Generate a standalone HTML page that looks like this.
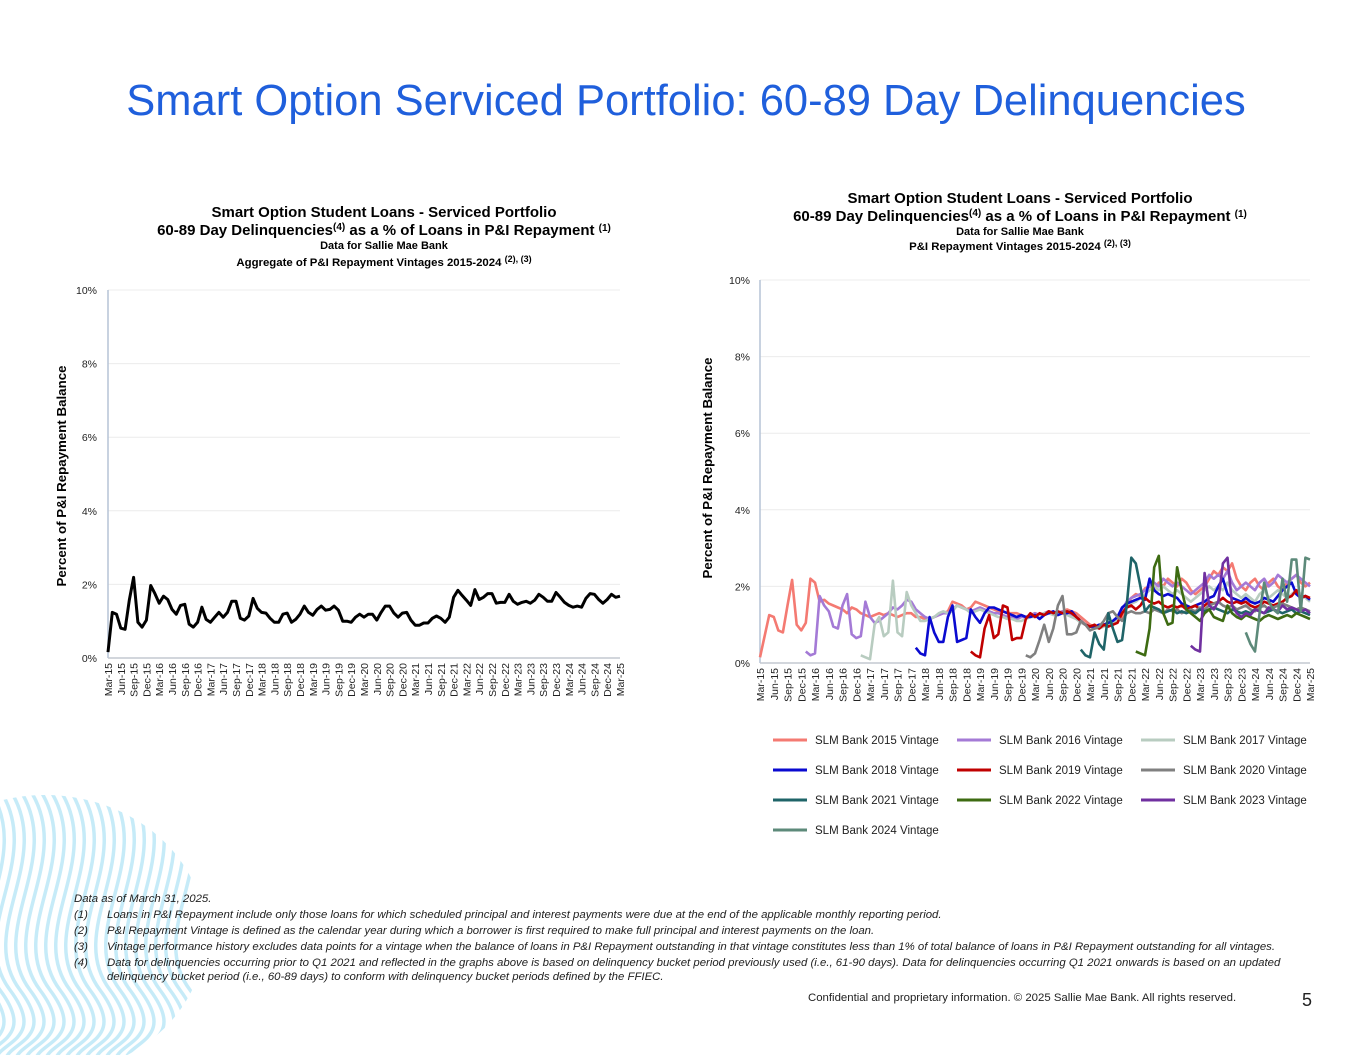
<!DOCTYPE html>
<html><head><meta charset="utf-8"><style>
html,body{margin:0;padding:0;background:#fff;}
body{width:1365px;height:1055px;overflow:hidden;font-family:"Liberation Sans",Arial,sans-serif;}
svg text{font-family:"Liberation Sans",Arial,sans-serif;}
</style></head><body>
<svg id="page" width="1365" height="1055" viewBox="0 0 1365 1055">
<defs><clipPath id="blob"><ellipse cx="45" cy="935" rx="160" ry="140"/></clipPath></defs>
<g id="waves" clip-path="url(#blob)"></g>
<text x="686" y="115" text-anchor="middle" font-size="43.5" fill="#1f5fdc">Smart Option Serviced Portfolio: 60-89 Day Delinquencies</text>

<g font-weight="bold" fill="#000" text-anchor="middle">
<text x="384" y="217" font-size="15">Smart Option Student Loans - Serviced Portfolio</text>
<text x="384" y="235" font-size="15">60-89 Day Delinquencies<tspan font-size="10" dy="-5">(4)</tspan><tspan dy="5"> as a % of Loans in P&amp;I Repayment </tspan><tspan font-size="10" dy="-4">(1)</tspan></text>
<text x="384" y="249" font-size="11">Data for Sallie Mae Bank</text>
<text x="384" y="266" font-size="11.4">Aggregate of P&amp;I Repayment Vintages 2015-2024 <tspan font-size="9" dy="-4">(2), (3)</tspan></text>
</g>
<g font-weight="bold" fill="#000" text-anchor="middle">
<text x="1020" y="203" font-size="15">Smart Option Student Loans - Serviced Portfolio</text>
<text x="1020" y="221" font-size="15">60-89  Day Delinquencies<tspan font-size="10" dy="-5">(4)</tspan><tspan dy="5"> as a % of Loans in P&amp;I Repayment </tspan><tspan font-size="10" dy="-4">(1)</tspan></text>
<text x="1020" y="235" font-size="11">Data for Sallie Mae Bank</text>
<text x="1020" y="250" font-size="11.4">P&amp;I Repayment Vintages 2015-2024 <tspan font-size="9" dy="-4">(2), (3)</tspan></text>
</g>

<g id="left"></g>
<g id="right"></g>

<g font-size="11.4" font-style="italic" fill="#222">
<text x="74" y="902">Data as of  March 31, 2025.</text>
<text x="74" y="918">(1)</text><text x="107" y="918">Loans in P&amp;I Repayment include only those loans for which scheduled principal and interest payments were due at the end of the applicable monthly reporting period.</text>
<text x="74" y="934">(2)</text><text x="107" y="934">P&amp;I Repayment Vintage is defined as the calendar year during which a borrower is first required to make full principal and interest payments on the loan.</text>
<text x="74" y="950">(3)</text><text x="107" y="950">Vintage performance history excludes data points for a vintage when the balance of loans in P&amp;I Repayment outstanding in that vintage constitutes less than 1% of total balance of loans in P&amp;I Repayment outstanding for all vintages.</text>
<text x="74" y="966">(4)</text><text x="107" y="966">Data for delinquencies occurring prior to Q1 2021 and reflected in the graphs above is based on delinquency bucket period previously used (i.e., 61-90 days).  Data for delinquencies occurring Q1 2021 onwards is based on an updated</text>
<text x="107" y="980">delinquency bucket period (i.e., 60-89 days) to conform with delinquency bucket periods defined by the FFIEC.</text>
</g>
<text x="808" y="1001" font-size="11.4" fill="#222">Confidential and proprietary information. © 2025 Sallie Mae Bank. All rights reserved.</text>
<text x="1302" y="1006" font-size="18" fill="#222">5</text>
</svg>
<script>
const quarterLabels = ["Mar-15","Jun-15","Sep-15","Dec-15","Mar-16","Jun-16","Sep-16","Dec-16","Mar-17","Jun-17","Sep-17","Dec-17","Mar-18","Jun-18","Sep-18","Dec-18","Mar-19","Jun-19","Sep-19","Dec-19","Mar-20","Jun-20","Sep-20","Dec-20","Mar-21","Jun-21","Sep-21","Dec-21","Mar-22","Jun-22","Sep-22","Dec-22","Mar-23","Jun-23","Sep-23","Dec-23","Mar-24","Jun-24","Sep-24","Dec-24","Mar-25"];
const yTicks = [0,2,4,6,8,10];
const yTickLabels = ["0%","2%","4%","6%","8%","10%"];
const aggregate = [0.16,1.24,1.19,0.81,0.78,1.57,2.19,0.97,0.84,1.03,1.97,1.75,1.49,1.68,1.59,1.32,1.19,1.43,1.46,0.92,0.84,0.97,1.38,1.05,0.97,1.11,1.24,1.11,1.24,1.54,1.54,1.08,1.03,1.14,1.62,1.35,1.24,1.22,1.08,0.97,0.97,1.19,1.22,0.97,1.05,1.19,1.41,1.24,1.16,1.32,1.41,1.30,1.32,1.41,1.30,1.00,1.00,0.97,1.11,1.19,
1.11,1.19,1.19,1.03,1.24,1.41,1.41,1.22,1.11,1.22,1.24,1.03,0.89,0.89,0.95,0.95,1.08,1.14,1.08,0.97,1.11,1.65,1.84,1.70,1.57,1.43,1.86,1.59,1.65,1.75,1.75,1.49,1.51,1.51,1.73,1.54,1.46,1.51,1.54,1.49,1.57,1.73,1.65,1.54,1.54,1.78,1.65,1.51,1.43,1.38,1.41,1.38,1.62,1.75,1.73,1.59,1.49,1.59,1.73,1.65,1.68];
const vintageNames = ["SLM Bank 2015 Vintage","SLM Bank 2016 Vintage","SLM Bank 2017 Vintage","SLM Bank 2018 Vintage","SLM Bank 2019 Vintage","SLM Bank 2020 Vintage","SLM Bank 2021 Vintage","SLM Bank 2022 Vintage","SLM Bank 2023 Vintage","SLM Bank 2024 Vintage"];
const vintageStart = [0,10,22,34,46,58,70,82,94,106];
const v2015 = [0.15,0.7,1.25,1.2,0.85,0.8,1.5,2.17,1.0,0.85,1.05,2.2,2.1, 1.6,1.65,1.55,1.5,1.45,1.4,1.3,1.45,1.4,1.3,1.25,1.2, 1.25,1.3,1.25,1.3,1.25,1.2,1.25,1.3,1.3,1.2,1.2,1.15, 1.15,1.2,1.25,1.3,1.35,1.6,1.55,1.5,1.4,1.45,1.6,1.55, 1.5,1.45,1.4,1.35,1.35,1.3,1.3,1.3,1.25,1.2,1.25,1.3, 1.25,1.3,1.35,1.3,1.3,1.35,1.4,1.35,1.3,1.2,1.1,1.0, 0.95,0.9,1.0,1.05,1.0,1.1,1.2,1.5,1.7,1.8,1.75,1.95, 2.0,1.9,2.1,2.0,2.2,2.1,2.0,2.2,2.1,1.9,1.8,1.9, 2.0,2.2,2.4,2.3,2.5,2.4,2.6,2.2,2.0,1.9,2.1,2.2, 2.0,1.9,2.1,2.2,2.0,1.9,2.1,2.2,2.3,2.1,2.0,2.1];
const v2016 = [0.3,0.2,0.25,1.75,1.5,1.35,0.95,0.9,1.5,1.8,0.75,0.65, 0.7,1.6,1.2,1.05,1.1,1.2,1.3,1.45,1.4,1.5,1.65,1.6, 1.4,1.3,1.2,1.15,1.2,1.25,1.3,1.3,1.4,1.5,1.45,1.4, 1.35,1.4,1.45,1.4,1.35,1.3,1.3,1.25,1.2,1.2,1.15,1.2, 1.2,1.25,1.3,1.25,1.3,1.35,1.3,1.3,1.35,1.3,1.25,1.2, 1.1,1.0,0.95,0.9,0.95,1.0,1.0,1.1,1.15,1.4,1.6,1.7, 1.75,1.8,1.9,2.0,2.1,2.0,2.2,2.1,2.0,2.1,2.0,1.9, 1.8,1.9,2.0,2.1,2.3,2.2,2.3,2.2,2.4,2.1,1.9,2.0, 2.1,2.0,1.9,2.1,2.2,2.0,2.1,2.3,2.2,2.1,2.2,2.3,2.2,2.1,2.0];
const v2017 = [0.2,0.15,0.1,1.0,1.2,0.7,0.8,2.15,0.8,0.7,1.85,1.5, 1.3,1.1,1.1,1.15,1.2,1.3,1.35,1.3,1.35,1.5,1.45,1.4, 1.3,1.35,1.4,1.35,1.3,1.25,1.2,1.2,1.15,1.15,1.1,1.1, 1.15,1.2,1.2,1.25,1.3,1.3,1.25,1.3,1.3,1.25,1.2,1.15, 1.05,1.0,0.95,0.9,0.9,0.95,1.0,1.05,1.1,1.3,1.45,1.55, 1.6,1.7,1.8,1.9,2.0,1.9,2.0,1.9,1.8,1.9,1.8,1.7, 1.6,1.7,1.8,1.9,2.0,1.9,2.0,1.9,2.1,1.9,1.8,1.7, 1.8,1.7,1.6,1.8,1.9,1.7,1.8,1.9,1.8,1.7,1.8,1.9,1.8,1.7,1.6];
const v2018 = [0.4,0.25,0.2,1.2,0.8,0.55,0.55,1.2,1.5,0.55,0.6,0.65, 1.4,1.2,1.05,1.3,1.45,1.45,1.4,1.35,1.3,1.25,1.2,1.25, 1.2,1.2,1.25,1.15,1.25,1.3,1.35,1.25,1.3,1.3,1.35,1.2, 1.1,1.0,0.95,0.95,1.0,1.0,1.05,1.1,1.2,1.45,1.55,1.6, 1.65,1.7,1.65,2.2,1.9,1.8,1.75,1.8,1.75,1.7,1.55,1.5, 1.45,1.5,1.55,1.6,1.7,1.75,2.0,2.2,1.8,1.7,1.65,1.6, 1.7,1.6,1.55,1.6,1.7,1.65,1.6,1.75,1.9,2.0,2.1,1.8,1.7,1.75,1.65];
const v2019 = [0.3,0.2,0.15,0.9,1.25,0.65,0.75,1.5,1.45,0.6,0.65,0.65, 1.15,1.3,1.2,1.3,1.25,1.35,1.3,1.35,1.3,1.35,1.3,1.2, 1.1,1.0,0.95,1.0,0.9,1.0,0.95,1.0,1.05,1.3,1.45,1.5, 1.4,1.5,1.7,1.6,1.55,1.6,1.5,1.45,1.5,1.45,1.5,1.4, 1.45,1.5,1.4,1.5,1.6,1.55,1.6,1.7,1.6,1.55,1.6,1.55, 1.6,1.5,1.45,1.5,1.6,1.55,1.5,1.55,1.6,1.7,1.75,1.9,1.7,1.75,1.7];
const v2020 = [0.2,0.15,0.25,0.6,1.0,0.55,0.9,1.5,1.75,0.75,0.75,0.8, 1.1,1.0,0.85,0.9,0.95,1.1,1.3,1.35,1.2,1.1,1.3,1.35, 1.3,1.3,1.35,1.3,1.4,1.35,1.3,1.4,1.35,1.4,1.3,1.35, 1.4,1.35,1.45,1.4,1.5,1.55,1.6,1.5,1.45,1.5,1.4,1.45, 1.5,1.4,1.35,1.45,1.5,1.4,1.45,1.5,1.55,1.5,1.45,1.4,1.45,1.4,1.35];
const v2021 = [0.35,0.2,0.15,0.8,0.5,0.35,1.3,0.9,0.55,0.6,1.5,2.75, 2.6,2.0,1.35,1.5,1.45,1.4,1.3,1.35,1.4,1.3,1.35,1.3, 1.35,1.3,1.4,1.35,1.4,1.45,1.4,1.35,1.3,1.4,1.35,1.3, 1.35,1.3,1.4,1.35,1.3,1.35,1.4,1.35,1.3,1.35,1.4,1.3,1.35,1.3,1.25];
const v2022 = [0.3,0.25,0.2,0.9,2.5,2.8,1.3,1.0,1.05,2.5,1.9,1.4, 1.3,1.2,1.1,1.3,1.4,1.2,1.15,1.1,1.5,1.3,1.2,1.15, 1.25,1.2,1.15,1.1,1.2,1.25,1.2,1.15,1.2,1.25,1.2,1.3,1.25,1.2,1.15];
const v2023 = [0.45,0.35,0.3,2.35,1.5,1.4,1.6,2.6,2.75,1.5,1.3,1.2, 1.3,1.25,1.4,1.35,1.3,1.45,1.4,1.35,1.5,1.4,1.45,1.4,1.35,1.4,1.3];
const v2024 = [0.8,0.5,0.3,1.3,2.1,1.6,1.4,1.3,2.2,1.6,2.7,2.7,1.35,2.75,2.7];
const vintageSeries = [v2015,v2016,v2017,v2018,v2019,v2020,v2021,v2022,v2023,v2024];
const vintageColors = ["#f47a72","#a47ad6","#b8ccc0","#0a0ad0","#c00000","#808080","#1f6468","#3d6b12","#7030a0","#5d8a7a"];

const NS="http://www.w3.org/2000/svg";
function mk(parent,tag,attrs,txt){const e=document.createElementNS(NS,tag);for(const k in attrs)e.setAttribute(k,attrs[k]);if(txt!==undefined)e.textContent=txt;parent.appendChild(e);return e;}

function drawAxes(g,x0,x1,y0,y10,labX,titleX,titleY){
  const ys=v=>y0+(y10-y0)*v/10;
  yTicks.forEach((t,i)=>{
    if(t>0){const gl=mk(g,'line',{x1:x0,x2:x1,y1:ys(t),y2:ys(t),stroke:'#ececec','stroke-width':1});
      
      }
    const tl=mk(g,'text',{x:labX,y:ys(t)+4,'text-anchor':'end','font-size':10.5,fill:'#222'},yTickLabels[i]);
    
    
  });
  const ya=mk(g,'line',{x1:x0,x2:x0,y1:y10,y2:y0,stroke:'#b5c3d6','stroke-width':1.5});
  
  
  const xa=mk(g,'line',{x1:x0,x2:x1,y1:y0,y2:y0,stroke:'#c4c8d0','stroke-width':1.5});
  
  
  const n=quarterLabels.length;
  quarterLabels.forEach((l,i)=>{
    const x=x0+(x1-x0)*i/(n-1);
    const t=mk(g,'text',{x:0,y:0,'text-anchor':'end','font-size':10.5,fill:'#222',transform:`translate(${x+4},${y0+5}) rotate(-90)`},l);
    
    
  });
  const yt=mk(g,'text',{x:0,y:0,'text-anchor':'middle','font-size':13.3,'font-weight':'bold',fill:'#000',transform:`translate(${titleX},${titleY}) rotate(-90)`},'Percent of P&I Repayment  Balance');
  
  
  return ys;
}

(function(){
  const g=document.getElementById('left');
  const x0=108,x1=620,y0=658,y10=290;
  const ys=drawAxes(g,x0,x1,y0,y10,97,66,476);
  const xs=i=>x0+(x1-x0)*i/(aggregate.length-1);
  const pts=aggregate.map((v,i)=>xs(i).toFixed(1)+','+ys(v).toFixed(1)).join(' ');
  const p=mk(g,'polyline',{points:pts,fill:'none',stroke:'#000','stroke-width':3,'stroke-linejoin':'round'});
  
  
})();

(function(){
  const g=document.getElementById('right');
  const x0=760,x1=1310,y0=663,y10=280;
  const ys=drawAxes(g,x0,x1,y0,y10,750,712,468);
  const xs=m=>x0+(x1-x0)*m/120;
  vintageSeries.forEach((s,k)=>{
    const pts=s.map((v,i)=>xs(vintageStart[k]+i).toFixed(1)+','+ys(v).toFixed(1)).join(' ');
    const p=mk(g,'polyline',{points:pts,fill:'none',stroke:vintageColors[k],'stroke-width':2.6,'stroke-linejoin':'round'});
    
    
  });
  vintageNames.forEach((nm,k)=>{
    const col=k%3,row=Math.floor(k/3);
    const lx=773+col*184,ly=740+row*30;
    const e=mk(g,'g',{});
    
    
    mk(e,'line',{x1:lx,x2:lx+34,y1:ly,y2:ly,stroke:vintageColors[k],'stroke-width':3});
    mk(e,'text',{x:lx+42,y:ly+4,'font-size':11.5,fill:'#222'},nm);
  });
})();

(function(){
  const g=document.getElementById('waves');
  for(let i=0;i<26;i++){
    const x=-70+i*10;
    const d=`M ${x} 790 C ${x+45} 860, ${x-35} 930, ${x+10} 990 S ${x-25} 1040, ${x} 1075`;
    const p=mk(g,'path',{d:d,fill:'none',stroke:'#c6ebf8','stroke-width':3.5});
    
    
  }
})();
</script>
</body></html>
